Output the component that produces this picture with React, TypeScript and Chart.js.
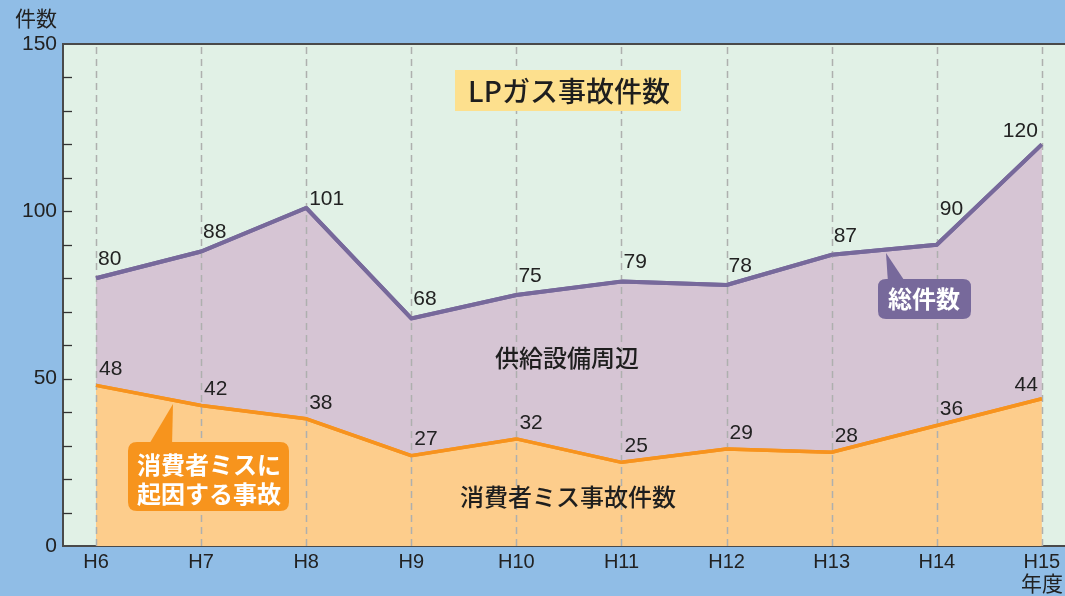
import React, { useEffect, useRef } from "react";
import { Chart, registerables } from "chart.js";

Chart.register(...registerables);

const categories = ["H6", "H7", "H8", "H9", "H10", "H11", "H12", "H13", "H14", "H15"];
const totalAccidents = [80, 88, 101, 68, 75, 79, 78, 87, 90, 120];
const consumerErrors = [48, 42, 38, 27, 32, 25, 29, 28, 36, 44];
const yMajorTicks = [0, 50, 100, 150];
const yMinorStep = 10;

const NUM_FONT = "'Liberation Sans', Arial, sans-serif";
const JP_FONT = "'Noto Sans CJK JP', 'Noto Sans', sans-serif";

function roundRect(ctx: CanvasRenderingContext2D, x: number, y: number, w: number, h: number, r: number) {
  ctx.beginPath();
  ctx.moveTo(x + r, y);
  ctx.lineTo(x + w - r, y);
  ctx.quadraticCurveTo(x + w, y, x + w, y + r);
  ctx.lineTo(x + w, y + h - r);
  ctx.quadraticCurveTo(x + w, y + h, x + w - r, y + h);
  ctx.lineTo(x + r, y + h);
  ctx.quadraticCurveTo(x, y + h, x, y + h - r);
  ctx.lineTo(x, y + r);
  ctx.quadraticCurveTo(x, y, x + r, y);
  ctx.closePath();
}

const decorPlugin = {
  id: "decor",
  beforeDraw(chart: any) {
    const { ctx, chartArea } = chart;
    ctx.save();
    ctx.fillStyle = "#e1f1e6";
    ctx.fillRect(chartArea.left, chartArea.top, chartArea.right - chartArea.left, chartArea.bottom - chartArea.top);
    ctx.restore();
  },
  afterDatasetsDraw(chart: any) {
    const { ctx, chartArea, scales } = chart;
    const xs = scales.x;
    const ys = scales.y;
    ctx.save();
    // vertical dashed grid lines
    ctx.strokeStyle = "#aeb0ae";
    ctx.lineWidth = 1.5;
    ctx.setLineDash([7, 5]);
    categories.forEach((_, i) => {
      const px = Math.round(xs.getPixelForValue(i)) + 0.5;
      ctx.beginPath();
      ctx.moveTo(px, chartArea.bottom);
      ctx.lineTo(px, chartArea.top);
      ctx.stroke();
    });
    ctx.setLineDash([]);
    // redraw data lines on top of grid
    const lineSets = [
      { data: consumerErrors, color: "#f7931e", width: 3.5 },
      { data: totalAccidents, color: "#77699b", width: 4 },
    ];
    lineSets.forEach((s) => {
      ctx.strokeStyle = s.color;
      ctx.lineWidth = s.width;
      ctx.lineJoin = "round";
      ctx.beginPath();
      s.data.forEach((v, i) => {
        const px = xs.getPixelForValue(i);
        const py = ys.getPixelForValue(v);
        if (i === 0) ctx.moveTo(px, py);
        else ctx.lineTo(px, py);
      });
      ctx.stroke();
    });
    // minor ticks on y axis (inward)
    ctx.strokeStyle = "#333";
    ctx.lineWidth = 1.3;
    for (let v = yMinorStep; v < 150; v += yMinorStep) {
      const py = Math.round(ys.getPixelForValue(v)) + 0.5;
      ctx.beginPath();
      ctx.moveTo(chartArea.left, py);
      ctx.lineTo(chartArea.left + 9, py);
      ctx.stroke();
    }
    // top border
    ctx.strokeStyle = "#4a4a4a";
    ctx.lineWidth = 2;
    ctx.beginPath();
    ctx.moveTo(chartArea.left, chartArea.top);
    ctx.lineTo(chartArea.right, chartArea.top);
    ctx.stroke();

    // value labels
    ctx.fillStyle = "#222";
    ctx.font = `21px ${NUM_FONT}`;
    ctx.textBaseline = "middle";
    const last = categories.length - 1;
    totalAccidents.forEach((v, i) => {
      const px = xs.getPixelForValue(i);
      const py = ys.getPixelForValue(v);
      if (i === last) {
        ctx.textAlign = "right";
        ctx.fillText(String(v), px - 4, py - 13);
      } else if (i === 2) {
        ctx.textAlign = "left";
        ctx.fillText(String(v), px + 3, py - 9);
      } else if (i === 8) {
        ctx.textAlign = "left";
        ctx.fillText(String(v), px + 3, py - 36);
      } else {
        ctx.textAlign = "left";
        ctx.fillText(String(v), px + 2, py - 19);
      }
    });
    consumerErrors.forEach((v, i) => {
      const px = xs.getPixelForValue(i);
      const py = ys.getPixelForValue(v);
      if (i === last) {
        ctx.textAlign = "right";
        ctx.fillText(String(v), px - 4, py - 14);
      } else {
        ctx.textAlign = "left";
        ctx.fillText(String(v), px + 3, py - 16);
      }
    });

    // title box
    ctx.fillStyle = "#fde08e";
    ctx.fillRect(455, 70, 226, 41);
    ctx.fillStyle = "#1e1e1e";
    ctx.font = `500 28px ${JP_FONT}`;
    ctx.textAlign = "center";
    ctx.fillText("LPガス事故件数", 569, 91);

    // area labels
    ctx.font = `500 24px ${JP_FONT}`;
    ctx.fillText("供給設備周辺", 567, 358);
    ctx.fillText("消費者ミス事故件数", 568, 497);

    // orange callout
    ctx.fillStyle = "#f7941d";
    ctx.beginPath();
    ctx.moveTo(148, 446);
    ctx.lineTo(173, 404);
    ctx.lineTo(172, 446);
    ctx.closePath();
    ctx.fill();
    roundRect(ctx, 128, 442, 161, 69, 9);
    ctx.fill();
    ctx.fillStyle = "#ffffff";
    ctx.font = `bold 24px ${JP_FONT}`;
    ctx.fillText("消費者ミスに", 209, 465);
    ctx.fillText("起因する事故", 209, 494);

    // purple callout
    ctx.fillStyle = "#77699b";
    ctx.beginPath();
    ctx.moveTo(888, 283);
    ctx.lineTo(886, 253);
    ctx.lineTo(906, 283);
    ctx.closePath();
    ctx.fill();
    roundRect(ctx, 878, 279, 93, 40, 8);
    ctx.fill();
    ctx.fillStyle = "#ffffff";
    ctx.font = `bold 24px ${JP_FONT}`;
    ctx.fillText("総件数", 924, 299);

    // axis titles
    ctx.fillStyle = "#222";
    ctx.font = `21px ${JP_FONT}`;
    ctx.textAlign = "left";
    ctx.fillText("件数", 15, 18);
    ctx.textAlign = "right";
    ctx.fillText("年度", 1063, 583);
    ctx.restore();
  },
};

export default function App() {
  const canvasRef = useRef<HTMLCanvasElement | null>(null);

  useEffect(() => {
    document.body.style.margin = "0";
    const canvas = canvasRef.current;
    if (!canvas) return;
    const chart = new Chart(canvas, {
      type: "line",
      data: {
        labels: categories,
        datasets: [
          {
            label: "消費者ミス事故件数",
            data: consumerErrors.map((v, i) => ({ x: i, y: v })),
            borderColor: "#f7931e",
            backgroundColor: "#fdcd8c",
            borderWidth: 3.5,
            pointRadius: 0,
            fill: "origin",
            tension: 0,
          },
          {
            label: "総件数",
            data: totalAccidents.map((v, i) => ({ x: i, y: v })),
            borderColor: "#77699b",
            backgroundColor: "#d6c5d4",
            borderWidth: 4,
            pointRadius: 0,
            fill: "-1",
            tension: 0,
          },
        ],
      },
      options: {
        animation: false,
        responsive: false,
        maintainAspectRatio: false,
        layout: { padding: { top: 44, right: 0, left: 0, bottom: 0 } },
        plugins: {
          legend: { display: false },
          tooltip: { enabled: false },
          title: { display: false },
        },
        scales: {
          x: {
            type: "linear",
            min: -0.314,
            max: 9.22,
            afterBuildTicks: (scale: any) => {
              scale.ticks = categories.map((_, i) => ({ value: i }));
            },
            afterFit: (scale: any) => {
              scale.height = 50;
            },
            ticks: {
              autoSkip: false,
              maxRotation: 0,
              padding: 4,
              color: "#222",
              font: { family: NUM_FONT, size: 20 },
              callback: (v: any) => categories[Math.round(Number(v))] ?? "",
            },
            grid: { display: false, drawTicks: false },
            border: { display: true, color: "#4a4a4a", width: 2 },
          },
          y: {
            min: 0,
            max: 150,
            afterBuildTicks: (scale: any) => {
              scale.ticks = yMajorTicks.map((v) => ({ value: v }));
            },
            afterFit: (scale: any) => {
              scale.width = 63;
            },
            ticks: {
              padding: 6,
              color: "#222",
              font: { family: NUM_FONT, size: 21 },
            },
            grid: { display: false, drawTicks: false },
            border: { display: true, color: "#4a4a4a", width: 2 },
          },
        },
      },
      plugins: [decorPlugin],
    });
    return () => chart.destroy();
  }, []);

  return (
    <div style={{ position: "absolute", left: 0, top: 0, width: 1065, height: 596, background: "#90bde6" }}>
      <canvas ref={canvasRef} width={1065} height={596} style={{ display: "block" }} />
    </div>
  );
}
